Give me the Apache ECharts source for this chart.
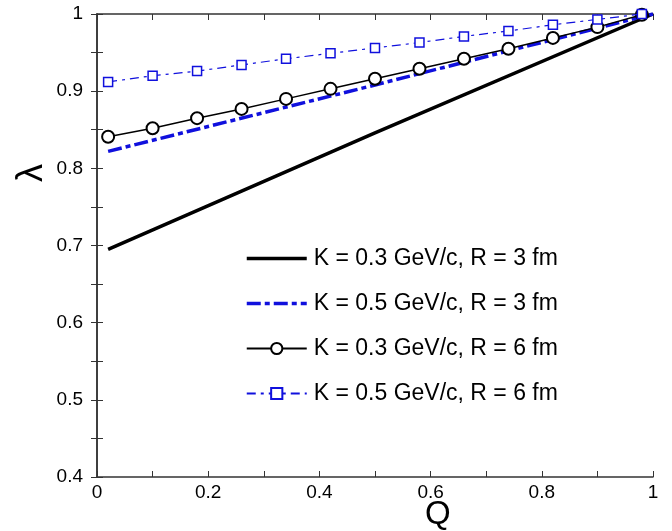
<!DOCTYPE html>
<html><head><meta charset="utf-8">
<script src="https://cdn.jsdelivr.net/npm/echarts@6/dist/echarts.min.js"></script>
<style>html,body{margin:0;padding:0;background:#fff}#c{width:672px;height:531px}</style>
</head><body><div id="c"></div>
<script>
const legendNames = ['K = 0.3 GeV/c, R = 3 fm','K = 0.5 GeV/c, R = 3 fm','K = 0.3 GeV/c, R = 6 fm','K = 0.5 GeV/c, R = 6 fm'];
const qThick = [0.02, 0.5, 1.0];
const k03r3 = [0.695, 0.846, 1.0];
const k05r3 = [0.822, 0.908, 1.0];
const qMarked = [0.02,0.10,0.18,0.26,0.34,0.42,0.50,0.58,0.66,0.74,0.82,0.90,0.98];
const k03r6 = [0.841,0.852,0.865,0.877,0.890,0.903,0.916,0.929,0.942,0.955,0.969,0.983,0.999];
const k05r6 = [0.912,0.920,0.926,0.934,0.942,0.949,0.956,0.963,0.971,0.978,0.986,0.993,1.0];
const xTicks = [0,0.2,0.4,0.6,0.8,1];
const yTicks = [0.4,0.5,0.6,0.7,0.8,0.9,1];

const pair = (xs, ys) => xs.map((x,i)=>[x, ys[i]]);
const blue = '#1010dd';
const font = 'Liberation Sans, Arial, Helvetica, sans-serif';
const axisLine = {show:true, lineStyle:{color:'#333', width:1.5}};
const tick = {show:true, inside:true, length:6, lineStyle:{color:'#333', width:1}};
const minor = {show:true, splitNumber:2, length:6, lineStyle:{color:'#333', width:1}};
const thickDash = [14,4,5,4];

const chart = echarts.init(document.getElementById('c'), null, {renderer:'canvas'});
chart.setOption({
  animation:false,
  backgroundColor:'#fff',
  grid:{left:97, right:19, top:14, bottom:54, containLabel:false},
  xAxis:[
    {type:'value', min:0, max:1, interval:0.2, position:'bottom',
     axisLine, axisTick:tick, minorTick:minor, splitLine:{show:false},
     axisLabel:{color:'#000', fontSize:19, fontFamily:font, margin:6,
       formatter:v=>{const t=xTicks.find(a=>Math.abs(a-v)<1e-6); return t===undefined?'':String(t);}}},
    {type:'value', min:0, max:1, interval:0.2, position:'top',
     axisLine, axisTick:tick, minorTick:minor, splitLine:{show:false}, axisLabel:{show:false}}
  ],
  yAxis:[
    {type:'value', min:0.4, max:1, interval:0.1, position:'left',
     axisLine, axisTick:tick, minorTick:minor, splitLine:{show:false},
     axisLabel:{color:'#000', fontSize:19, fontFamily:font, margin:14,
       formatter:v=>{const t=yTicks.find(a=>Math.abs(a-v)<1e-6); return t===undefined?'':String(t);}}},
    {type:'value', min:0.4, max:1, interval:0.1, position:'right',
     axisLine, axisTick:tick, minorTick:minor, splitLine:{show:false}, axisLabel:{show:false}}
  ],
  legend:{
    orient:'vertical', left:240, top:242, itemWidth:60, itemHeight:14, itemGap:22,
    textStyle:{color:'#000', fontSize:23, fontFamily:font, padding:[0,0,0,2]},
    data:[
      {name:legendNames[0], lineStyle:{width:3.5, color:'#000'}},
      {name:legendNames[1], lineStyle:{width:3.5, color:blue, type:thickDash}},
      {name:legendNames[2]},
      {name:legendNames[3]}
    ]
  },
  graphic:[
    {type:'text', left:14, top:164, rotation:Math.PI/2,
     style:{text:'λ', font:'36px ' + font, fill:'#000'}},
    {type:'text', left:425, top:498,
     style:{text:'Q', font:'33px ' + font, fill:'#000'}}
  ],
  series:[
    {name:legendNames[0], type:'line', data:pair(qThick,k03r3), showSymbol:false, symbol:'none',
     lineStyle:{color:'#000', width:3.5}, itemStyle:{color:'rgba(0,0,0,0)'}, z:3},
    {name:legendNames[1], type:'line', data:pair(qThick,k05r3), showSymbol:false, symbol:'none',
     lineStyle:{color:blue, width:3.5, type:thickDash}, itemStyle:{color:'rgba(0,0,0,0)'}, z:3},
    {name:legendNames[2], type:'line', data:pair(qMarked,k03r6), symbol:'emptyCircle', symbolSize:12,
     lineStyle:{color:'#000', width:1.5}, itemStyle:{color:'#000', borderWidth:1.5}, z:4},
    {name:legendNames[3], type:'line', data:pair(qMarked,k05r6), symbol:'rect', symbolSize:9,
     lineStyle:{color:blue, width:1.2, type:[9,5,3,5]}, itemStyle:{color:'#fff', borderColor:blue, borderWidth:1.5}, z:5}
  ]
});
</script></body></html>
